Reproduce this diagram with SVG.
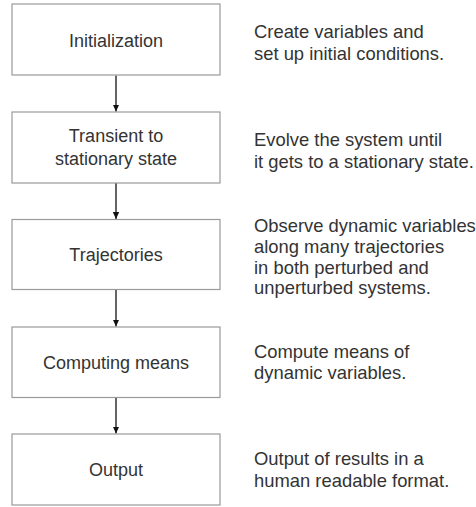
<svg xmlns="http://www.w3.org/2000/svg" width="476" height="507" viewBox="0 0 476 507">
<style>
.box{fill:#fff;stroke:#9a9a9a;stroke-width:1.2}
.t{font-family:"Liberation Sans",Arial,sans-serif;font-size:18px;fill:#333}
.r{font-size:18.4px}
.c{text-anchor:middle}
.edge{stroke:#111;stroke-width:1.3;fill:none}
</style>
<defs>
<marker id="ah" markerWidth="8" markerHeight="8" refX="7" refY="4" orient="auto" markerUnits="userSpaceOnUse">
<path d="M0,0.8 L7,4 L0,7.2 Z" fill="#111"/>
</marker>
</defs>
<rect width="476" height="507" fill="#fff"/>
<g id="connectors">
<line class="edge" x1="116" y1="75.5" x2="116" y2="111.5" marker-end="url(#ah)"/>
<line class="edge" x1="116" y1="183" x2="116" y2="219" marker-end="url(#ah)"/>
<line class="edge" x1="116" y1="290" x2="116" y2="326.5" marker-end="url(#ah)"/>
<line class="edge" x1="116" y1="397.5" x2="116" y2="433.5" marker-end="url(#ah)"/>
</g>
<g id="n1">
<rect class="box" x="12" y="4" width="208" height="71"/>
<text class="t c" x="116" y="47">Initialization</text>
</g>
<g id="n2">
<rect class="box" x="12" y="112" width="208" height="71"/>
<text class="t c" x="116" y="142">Transient to</text>
<text class="t c" x="116" y="165">stationary state</text>
</g>
<g id="n3">
<rect class="box" x="12" y="219.5" width="208" height="70"/>
<text class="t c" x="116" y="261">Trajectories</text>
</g>
<g id="n4">
<rect class="box" x="12" y="327" width="208" height="70.5"/>
<text class="t c" x="116" y="369">Computing means</text>
</g>
<g id="n5">
<rect class="box" x="12" y="434" width="208" height="71"/>
<text class="t c" x="116" y="476">Output</text>
</g>
<g id="d1">
<text class="t r" x="254" y="38">Create variables and</text>
<text class="t r" x="254" y="59.5">set up initial conditions.</text>
</g>
<g id="d2">
<text class="t r" x="254" y="146">Evolve the system until</text>
<text class="t r" x="254" y="167.5">it gets to a stationary state.</text>
</g>
<g id="d3">
<text class="t r" x="254" y="232">Observe dynamic variables</text>
<text class="t r" x="254" y="253">along many trajectories</text>
<text class="t r" x="254" y="273.5">in both perturbed and</text>
<text class="t r" x="254" y="294">unperturbed systems.</text>
</g>
<g id="d4">
<text class="t r" x="254" y="357.5">Compute means of</text>
<text class="t r" x="254" y="379">dynamic variables.</text>
</g>
<g id="d5">
<text class="t r" x="254" y="465">Output of results in a</text>
<text class="t r" x="254" y="486.5">human readable format.</text>
</g>
</svg>
